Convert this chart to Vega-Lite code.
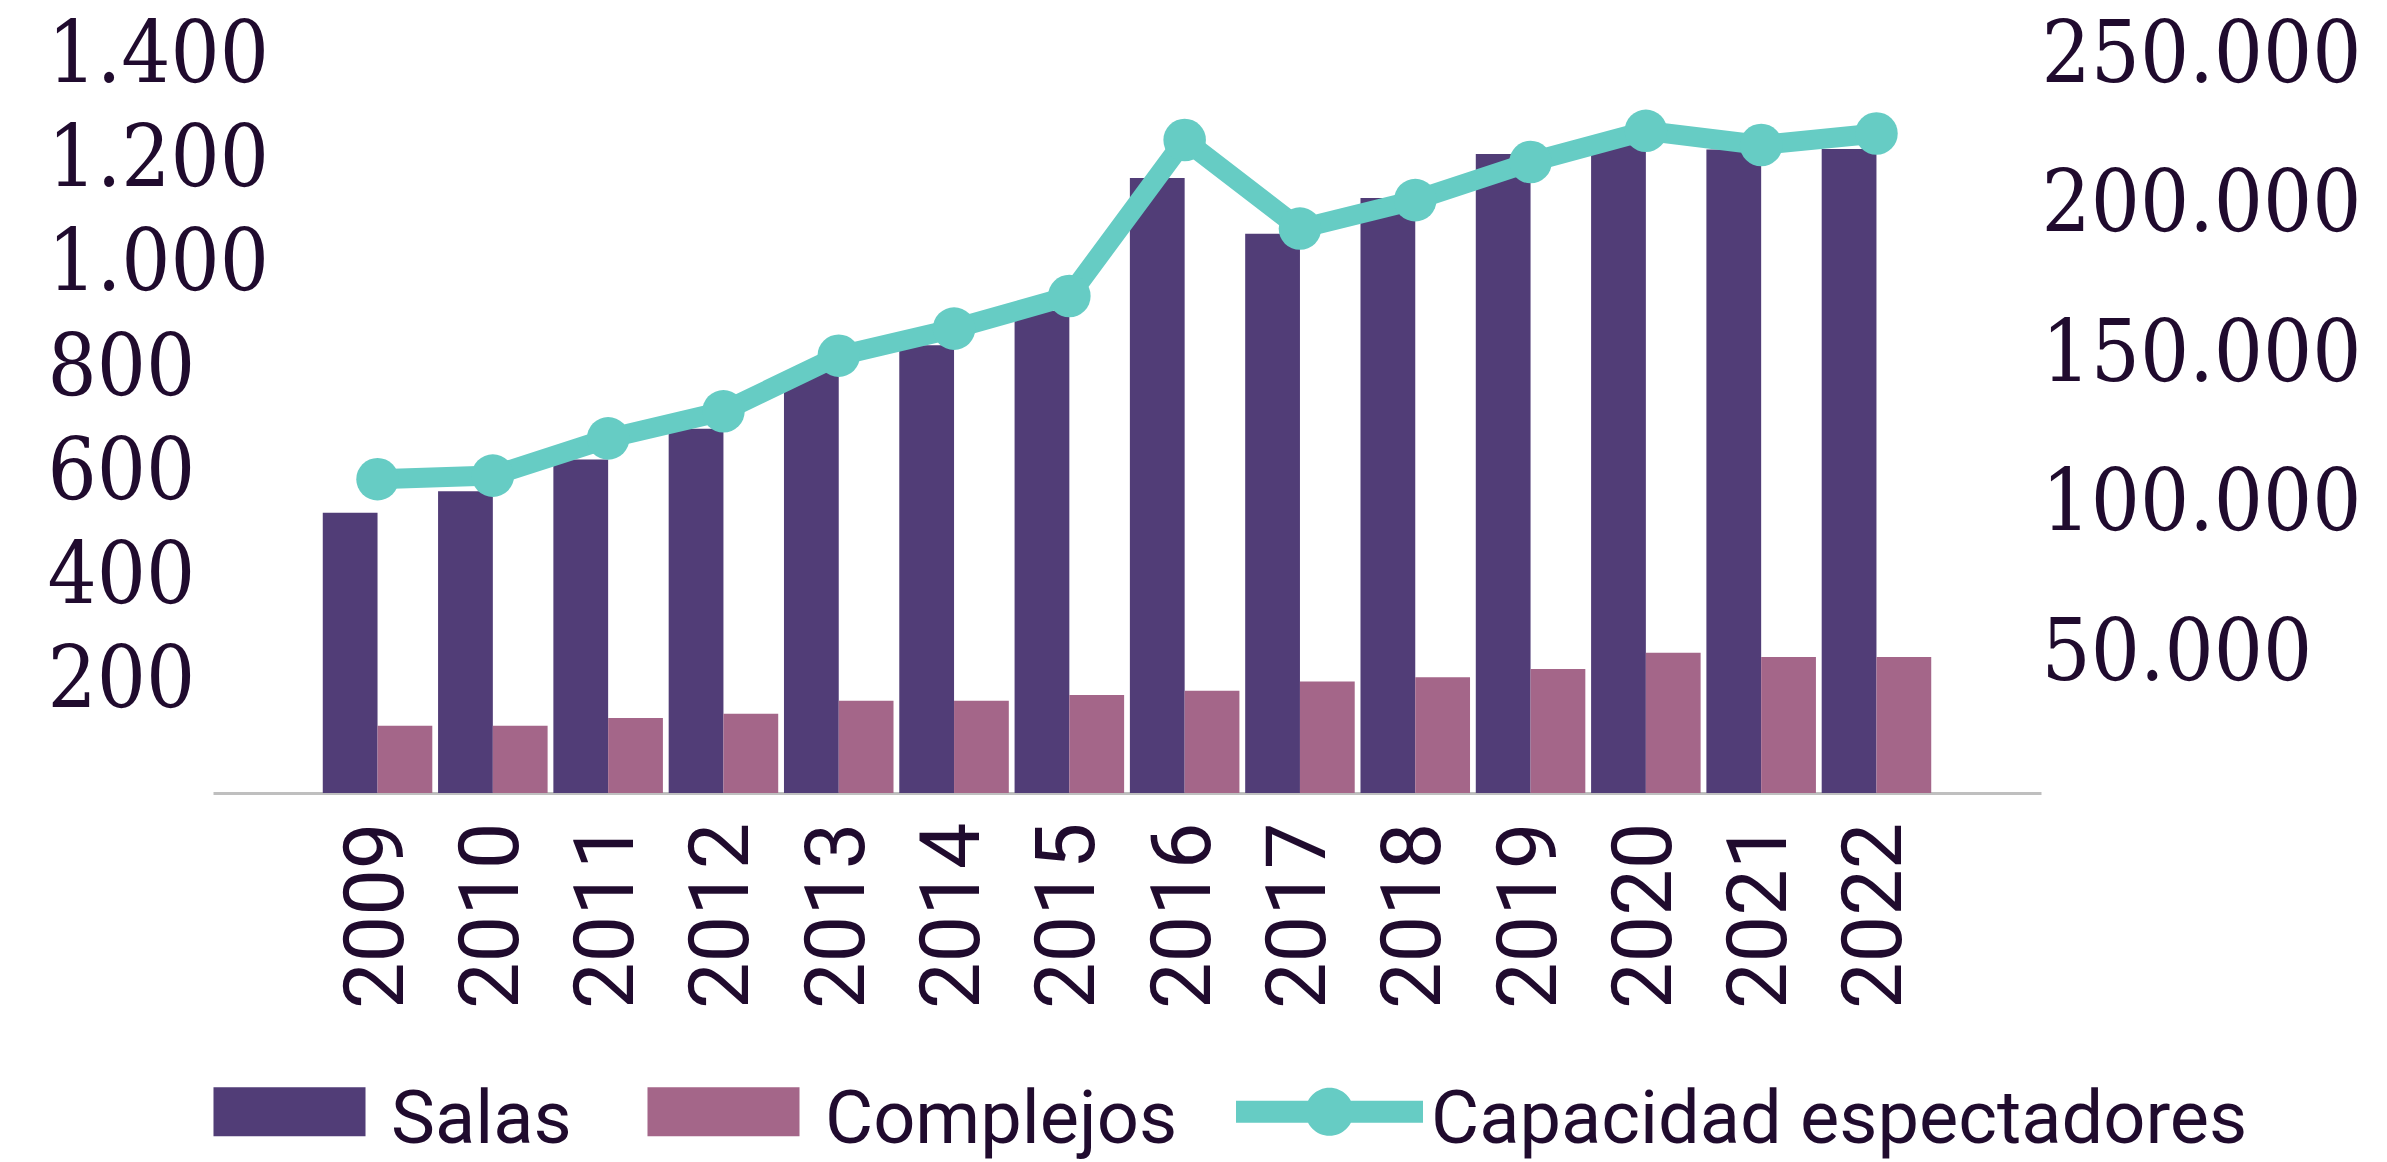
{
  "$schema": "https://vega.github.io/schema/vega-lite/v6.json",
  "width": 1828,
  "height": 748,
  "autosize": {"type": "none"},
  "padding": {"left": 213, "top": 45, "right": 346, "bottom": 369},
  "background": "white",
  "config": {"view": {"stroke": null}},
  "datasets": {
    "bars": [
      {"year": "2009", "serie": "Salas", "value": 538}, {"year": "2009", "serie": "Complejos", "value": 129},
      {"year": "2010", "serie": "Salas", "value": 579}, {"year": "2010", "serie": "Complejos", "value": 129},
      {"year": "2011", "serie": "Salas", "value": 640}, {"year": "2011", "serie": "Complejos", "value": 144},
      {"year": "2012", "serie": "Salas", "value": 699}, {"year": "2012", "serie": "Complejos", "value": 152},
      {"year": "2013", "serie": "Salas", "value": 810}, {"year": "2013", "serie": "Complejos", "value": 177},
      {"year": "2014", "serie": "Salas", "value": 859}, {"year": "2014", "serie": "Complejos", "value": 177},
      {"year": "2015", "serie": "Salas", "value": 925}, {"year": "2015", "serie": "Complejos", "value": 188},
      {"year": "2016", "serie": "Salas", "value": 1180}, {"year": "2016", "serie": "Complejos", "value": 196},
      {"year": "2017", "serie": "Salas", "value": 1073}, {"year": "2017", "serie": "Complejos", "value": 214},
      {"year": "2018", "serie": "Salas", "value": 1142}, {"year": "2018", "serie": "Complejos", "value": 222},
      {"year": "2019", "serie": "Salas", "value": 1226}, {"year": "2019", "serie": "Complejos", "value": 238},
      {"year": "2020", "serie": "Salas", "value": 1255}, {"year": "2020", "serie": "Complejos", "value": 269},
      {"year": "2021", "serie": "Salas", "value": 1235}, {"year": "2021", "serie": "Complejos", "value": 261},
      {"year": "2022", "serie": "Salas", "value": 1236}, {"year": "2022", "serie": "Complejos", "value": 261}
    ],
    "cap": [
      {"year": "2009", "cap": 104880}, {"year": "2010", "cap": 106080}, {"year": "2011", "cap": 118520},
      {"year": "2012", "cap": 127570}, {"year": "2013", "cap": 146160}, {"year": "2014", "cap": 155210},
      {"year": "2015", "cap": 166110}, {"year": "2016", "cap": 218250}, {"year": "2017", "cap": 188640},
      {"year": "2018", "cap": 198160}, {"year": "2019", "cap": 210900}, {"year": "2020", "cap": 221320},
      {"year": "2021", "cap": 216580}, {"year": "2022", "cap": 220420}
    ]
  },
  "encoding": {
    "x": {
      "field": "year", "type": "nominal", "sort": null,
      "scale": {"paddingInner": 0.05, "paddingOuter": 0.952},
      "axis": {
        "title": null, "labelAngle": -90, "ticks": false, "tickSize": 0, "labelPadding": 29,
        "domain": true, "domainColor": "#BFBFBF", "domainWidth": 3, "labelLimit": 1000,
        "labelFont": "Roboto", "labelFontSize": 83, "labelColor": "#200B2E", "grid": false
      }
    }
  },
  "layer": [
    {
      "data": {"name": "bars"},
      "mark": {"type": "bar"},
      "encoding": {
        "xOffset": {"field": "serie", "type": "nominal", "scale": {"domain": ["Salas", "Complejos"], "paddingInner": 0, "paddingOuter": 0}},
        "y": {
          "field": "value", "type": "quantitative",
          "scale": {"domain": [0, 1435.4], "nice": false, "zero": true},
          "axis": {
            "orient": "left", "title": null, "values": [200, 400, 600, 800, 1000, 1200, 1400],
            "labelExpr": "replace(format(datum.value, ','), ',', '.')",
            "domain": false, "ticks": false, "tickSize": 0, "grid": false,
            "labelAlign": "left", "labelPadding": 166, "labelOffset": -8, "labelLimit": 1000,
            "labelFont": "DejaVu Serif Condensed", "labelFontSize": 86, "labelColor": "#200B2E",
            "labelBound": false, "labelOverlap": false
          }
        },
        "color": {
          "field": "serie", "type": "nominal",
          "scale": {"domain": ["Salas", "Complejos", "Capacidad espectadores"], "range": ["#513D77", "#A46689", "#66CCC4"]},
          "legend": {
            "title": null, "orient": "none", "direction": "horizontal", "legendX": -17, "legendY": 973,
            "symbolSize": 34969, "labelFont": "Roboto", "labelFontSize": 74, "labelColor": "#200B2E",
            "labelOffset": 8, "columnPadding": 58, "padding": 0, "labelLimit": 2000,
            "encode": {
              "symbols": {"update": {
                "shape": {"signal": "datum.label === 'Capacidad espectadores' ? 'M-1,-0.118H1V0.118H-1Z M-0.257,0A0.257,0.257 0 1,1 0.257,0A0.257,0.257 0 1,1 -0.257,0Z' : 'M-0.813,-0.262H0.813V0.262H-0.813Z'"},
                "fill": {"signal": "datum.label === 'Salas' ? '#513D77' : datum.label === 'Complejos' ? '#A46689' : '#66CCC4'"},
                "fillOpacity": {"value": 1},
                "stroke": {"value": "transparent"},
                "strokeWidth": {"value": 0}
              }},
              "labels": {"update": {"dy": {"value": 9}}}
            }
          }
        }
      }
    },
    {
      "data": {"name": "cap"},
      "encoding": {
        "y": {
          "field": "cap", "type": "quantitative",
          "scale": {"domain": [0, 250000], "nice": false, "zero": true},
          "axis": {
            "orient": "right", "title": null, "values": [50000, 100000, 150000, 200000, 250000],
            "labelExpr": "replace(format(datum.value, ','), ',', '.')",
            "domain": false, "ticks": false, "tickSize": 0, "grid": false,
            "labelAlign": "left", "labelPadding": 0, "labelOffset": 10, "labelLimit": 1000,
            "labelFont": "DejaVu Serif Condensed", "labelFontSize": 86, "labelColor": "#200B2E",
            "labelBound": false, "labelOverlap": false
          }
        },
        "color": {"datum": "Capacidad espectadores"}
      },
      "layer": [
        {"mark": {"type": "line", "strokeWidth": 20, "strokeCap": "round", "strokeJoin": "round"}},
        {"mark": {"type": "point", "filled": true, "size": 1810, "opacity": 1}}
      ]
    }
  ],
  "resolve": {"scale": {"y": "independent"}}
}
